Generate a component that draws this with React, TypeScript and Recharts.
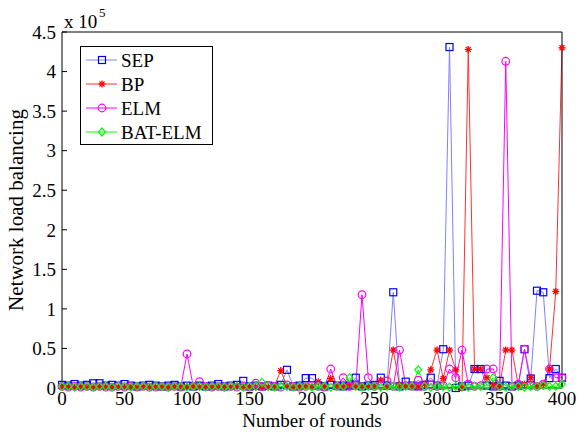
import { LineChart, Line, XAxis, YAxis } from 'recharts';

const ROUNDS = [
  0, 5, 10, 15, 20, 25, 30, 35, 40, 45, 50, 55, 60, 65, 70, 75, 80, 85, 90, 95,
  100, 105, 110, 115, 120, 125, 130, 135, 140, 145, 150, 155, 160, 165, 170, 175, 180, 185, 190, 195,
  200, 205, 210, 215, 220, 225, 230, 235, 240, 245, 250, 255, 260, 265, 270, 275, 280, 285, 290, 295,
  300, 305, 310, 315, 320, 325, 330, 335, 340, 345, 350, 355, 360, 365, 370, 375, 380, 385, 390, 395,
  400,
];

// values in units of 1e5
const SEP = [
  0.04, 0.03, 0.05, 0.03, 0.04, 0.06, 0.06, 0.03, 0.04, 0.03, 0.05, 0.03, 0.02, 0.03, 0.04, 0.03, 0.02, 0.03, 0.04, 0.02,
  0.03, 0.02, 0.03, 0.02, 0.03, 0.05, 0.02, 0.03, 0.04, 0.09, 0.02, 0.03, 0.02, 0.03, 0.02, 0.04, 0.23, 0.02, 0.03, 0.125,
  0.125, 0.03, 0.02, 0.04, 0.03, 0.02, 0.03, 0.13, 0.02, 0.03, 0.04, 0.13, 0.03, 1.21, 0.02, 0.08, 0.03, 0.02, 0.04, 0.13,
  0.03, 0.49, 4.31, 0.0, 0.02, 0.03, 0.24, 0.24, 0.03, 0.02, 0.09, 0.03, 0.02, 0.03, 0.49, 0.12, 1.23, 1.21, 0.125, 0.24,
  0.13,
];

const BP = [
  0.01, 0.02, 0.01, 0.02, 0.01, 0.01, 0.02, 0.01, 0.02, 0.01, 0.01, 0.02, 0.01, 0.02, 0.01, 0.01, 0.02, 0.01, 0.02, 0.01,
  0.01, 0.02, 0.01, 0.02, 0.01, 0.01, 0.02, 0.01, 0.02, 0.01, 0.02, 0.01, 0.02, 0.01, 0.03, 0.22, 0.02, 0.01, 0.02, 0.03,
  0.02, 0.08, 0.02, 0.12, 0.03, 0.02, 0.04, 0.02, 0.03, 0.02, 0.03, 0.1, 0.02, 0.48, 0.04, 0.02, 0.03, 0.02, 0.05, 0.23,
  0.48, 0.12, 0.48, 0.23, 0.0, 4.28, 0.24, 0.24, 0.13, 0.04, 0.02, 0.48, 0.48, 0.03, 0.05, 0.13, 0.03, 0.05, 0.24, 1.22,
  4.3,
];

const ELM = [
  0.02, 0.01, 0.02, 0.01, 0.02, 0.01, 0.02, 0.01, 0.01, 0.02, 0.01, 0.02, 0.01, 0.02, 0.01, 0.01, 0.02, 0.01, 0.02, 0.01,
  0.43, 0.02, 0.08, 0.02, 0.01, 0.02, 0.01, 0.02, 0.01, 0.02, 0.01, 0.06, 0.02, 0.03, 0.02, 0.01, 0.04, 0.02, 0.01, 0.02,
  0.03, 0.02, 0.01, 0.24, 0.02, 0.13, 0.02, 0.03, 1.18, 0.13, 0.02, 0.03, 0.09, 0.02, 0.48, 0.03, 0.02, 0.1, 0.02, 0.04,
  0.02, 0.03, 0.24, 0.13, 0.48, 0.05, 0.02, 0.03, 0.24, 0.24, 0.02, 4.13, 0.02, 0.05, 0.49, 0.03, 0.02, 0.05, 0.24, 0.13,
  0.13,
];

const BAT_ELM = [
  0.02, 0.02, 0.01, 0.02, 0.02, 0.01, 0.02, 0.02, 0.01, 0.02, 0.02, 0.01, 0.02, 0.02, 0.01, 0.02, 0.02, 0.01, 0.02, 0.02,
  0.01, 0.02, 0.02, 0.01, 0.02, 0.02, 0.01, 0.02, 0.02, 0.01, 0.02, 0.02, 0.07, 0.02, 0.01, 0.02, 0.02, 0.01, 0.02, 0.02,
  0.01, 0.02, 0.02, 0.01, 0.02, 0.02, 0.13, 0.02, 0.01, 0.02, 0.02, 0.01, 0.02, 0.02, 0.01, 0.02, 0.02, 0.23, 0.02, 0.01,
  0.02, 0.02, 0.01, 0.02, 0.02, 0.01, 0.02, 0.02, 0.03, 0.13, 0.02, 0.01, 0.02, 0.02, 0.01, 0.02, 0.02, 0.03, 0.02, 0.02,
  0.05,
];

const X_TICKS = [0, 50, 100, 150, 200, 250, 300, 350, 400];
const Y_TICKS = [0, 0.5, 1, 1.5, 2, 2.5, 3, 3.5, 4, 4.5];

const FONT = '"Liberation Serif", "Times New Roman", serif';

const data = ROUNDS.map((r, i) => ({
  round: r,
  sep: SEP[i],
  bp: BP[i],
  elm: ELM[i],
  bat: BAT_ELM[i],
}));

const SquareMark = ({ cx, cy, color = '#0000ff' }: any) => (
  <rect x={cx - 3.5} y={cy - 3.5} width={7} height={7} fill="none" stroke={color} strokeWidth={1.2} />
);
const StarMark = ({ cx, cy, color = '#ff0000' }: any) => (
  <g stroke={color} strokeWidth={1.3}>
    <line x1={cx - 3.5} y1={cy} x2={cx + 3.5} y2={cy} />
    <line x1={cx} y1={cy - 3.5} x2={cx} y2={cy + 3.5} />
    <line x1={cx - 2.5} y1={cy - 2.5} x2={cx + 2.5} y2={cy + 2.5} />
    <line x1={cx - 2.5} y1={cy + 2.5} x2={cx + 2.5} y2={cy - 2.5} />
  </g>
);
const CircleMark = ({ cx, cy, color = '#ff00ff' }: any) => (
  <circle cx={cx} cy={cy} r={3.8} fill="none" stroke={color} strokeWidth={1.2} />
);
const DiamondMark = ({ cx, cy, color = '#00ff00' }: any) => (
  <polygon
    points={`${cx},${cy - 4} ${cx + 3.5},${cy} ${cx},${cy + 4} ${cx - 3.5},${cy}`}
    fill="none"
    stroke={color}
    strokeWidth={1.2}
  />
);

const dotOf = (Mark: any, name: string) => (p: any) => {
  if (p.cx == null || p.cy == null) return <g key={`${name}-${p.index}`} />;
  return (
    <g key={`${name}-${p.index}`}>
      <Mark cx={p.cx} cy={p.cy} />
    </g>
  );
};

const LEGEND = [
  { label: 'SEP', line: '#8080ff', Mark: SquareMark },
  { label: 'BP', line: '#ff3030', Mark: StarMark },
  { label: 'ELM', line: '#ff00ff', Mark: CircleMark },
  { label: 'BAT-ELM', line: '#00ff00', Mark: DiamondMark },
];

const tickStyle = { fill: '#000', fontSize: 19, fontFamily: FONT };

export default function App() {
  return (
    <div style={{ position: 'absolute', left: 0, top: 0, width: 584, height: 432, background: '#fff' }}>
      <LineChart width={584} height={432} data={data} margin={{ top: 31, right: 21, bottom: 0, left: 0 }}>
        <XAxis
          dataKey="round"
          type="number"
          domain={[0, 400]}
          ticks={X_TICKS}
          height={44}
          stroke="#000"
          tickSize={-5}
          tickMargin={9}
          tick={tickStyle}
          interval={0}
          label={{
            value: 'Number of rounds',
            position: 'insideBottom',
            offset: 5,
            style: { fill: '#000', fontSize: 19, fontFamily: FONT },
          }}
        />
        <XAxis
          xAxisId="top"
          dataKey="round"
          type="number"
          orientation="top"
          domain={[0, 400]}
          ticks={X_TICKS}
          height={1}
          stroke="#000"
          tickSize={-5}
          tick={false}
        />
        <YAxis
          type="number"
          domain={[0, 4.5]}
          ticks={Y_TICKS}
          width={62}
          stroke="#000"
          tickSize={-5}
          tickMargin={11}
          tick={tickStyle}
          interval={0}
          label={{
            value: 'Network load balancing',
            angle: -90,
            position: 'insideLeft',
            offset: 16,
            style: { fill: '#000', fontSize: 21, fontFamily: FONT, textAnchor: 'middle' },
          }}
        />
        <YAxis
          yAxisId="right"
          type="number"
          orientation="right"
          domain={[0, 4.5]}
          ticks={Y_TICKS}
          width={1}
          stroke="#000"
          tickSize={-5}
          tick={false}
        />
        <Line dataKey="sep" stroke="#8080ff" strokeWidth={1} dot={dotOf(SquareMark, 'sep')} isAnimationActive={false} />
        <Line dataKey="bp" stroke="#ff3030" strokeWidth={1} dot={dotOf(StarMark, 'bp')} isAnimationActive={false} />
        <Line dataKey="elm" stroke="#ff00ff" strokeWidth={1} dot={dotOf(CircleMark, 'elm')} isAnimationActive={false} />
        <Line dataKey="bat" stroke="#00ff00" strokeWidth={1} dot={dotOf(DiamondMark, 'bat')} isAnimationActive={false} />
      </LineChart>
      <svg width={584} height={432} style={{ position: 'absolute', left: 0, top: 0, pointerEvents: 'none' }}>
        <text x={64} y={28} fontSize={19} fontFamily={FONT} fill="#000">x 10</text>
        <text x={99} y={17} fontSize={13} fontFamily={FONT} fill="#000">5</text>
        <rect x={80.5} y={46.5} width={132} height={98} fill="#fff" stroke="#000" strokeWidth={1} />
        {LEGEND.map((e, i) => {
          const y = 60 + i * 24;
          const M = e.Mark;
          return (
            <g key={e.label}>
              <line x1={86} y1={y} x2={117} y2={y} stroke={e.line} strokeWidth={1} />
              <M cx={102} cy={y} />
              <text x={121} y={y + 6.5} fontSize={19} fontFamily={FONT} fill="#000">{e.label}</text>
            </g>
          );
        })}
      </svg>
    </div>
  );
}
